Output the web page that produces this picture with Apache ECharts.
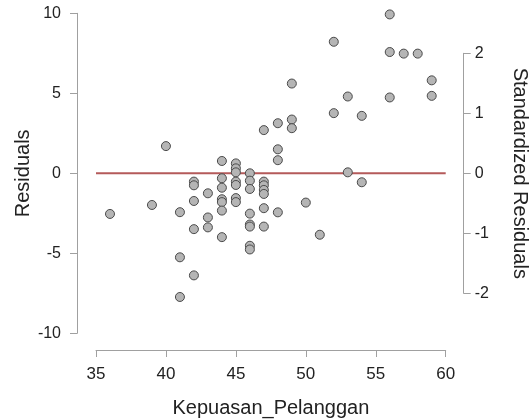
<!DOCTYPE html>
<html>
<head>
<meta charset="utf-8">
<script src="https://cdn.jsdelivr.net/npm/echarts@6/dist/echarts.min.js"></script>
<style>
html,body{margin:0;padding:0;background:#fff;}
#chart{width:530px;height:419px;}
</style>
</head>
<body>
<div id="chart"></div>
<script>
// Predictor values (Kepuasan_Pelanggan) and their residuals
const kepuasan = [
  36, 39, 40,
  41, 41, 41,
  42, 42, 42, 42, 42,
  43, 43, 43,
  44, 44, 44, 44, 44, 44, 44,
  45, 45, 45, 45, 45, 45, 45,
  46, 46, 46, 46, 46, 46, 46, 46,
  47, 47, 47, 47, 47, 47, 47,
  48, 48, 48, 48,
  49, 49, 49,
  50, 51,
  52, 52,
  53, 53,
  54, 54,
  56, 56, 56,
  57, 58,
  59, 59
];
const residuals = [
  -2.54, -1.98, 1.70,
  -2.43, -5.25, -7.73,
  -0.52, -0.75, -1.73, -3.49, -6.38,
  -1.25, -2.76, -3.38,
  0.77, -0.31, -0.90, -1.62, -1.80, -2.33, -3.99,
  0.62, 0.31, 0.06, -0.52, -0.73, -1.55, -1.80,
  0.00, -0.46, -0.98, -2.52, -3.20, -3.33, -4.53, -4.76,
  2.70, -0.52, -0.75, -1.04, -1.29, -2.18, -3.33,
  3.13, 1.50, 0.82, -2.44,
  5.61, 3.36, 2.82,
  -1.83, -3.84,
  8.22, 3.76,
  4.80, 0.06,
  3.59, -0.56,
  9.93, 7.58, 4.74,
  7.48, 7.48,
  5.81, 4.84
];
// Zero reference line
const refLineX = [35, 60];
const refLineY = [0, 0];
// Axis ranges / ticks
const xTicks = [35, 40, 45, 50, 55, 60];
const residualTicks = [-10, -5, 0, 5, 10];
const standardizedTicks = [-2, -1, 0, 1, 2];

const FONT = 'Liberation Sans';
const axisColor = '#a0a0a0';
const textColor = '#222';

const chart = echarts.init(document.getElementById('chart'), null, {renderer: 'canvas'});
const option = {
  animation: false,
  backgroundColor: '#fff',
  grid: [
    {left: 96, right: 84.3, top: 13.3, bottom: 85.7, containLabel: false, outerBoundsMode: 'none'},
    {left: 96, right: 84.3, top: 53.3, bottom: 125.7, containLabel: false, outerBoundsMode: 'none'}
  ],
  xAxis: [
    {
      gridIndex: 0, type: 'value',
      min: xTicks[0], max: xTicks[xTicks.length - 1], interval: 5,
      offset: 16.7,
      name: 'Kepuasan_Pelanggan', nameLocation: 'middle', nameGap: 48,
      nameTextStyle: {fontFamily: FONT, fontSize: 20, color: textColor},
      axisLine: {show: true, onZero: false, lineStyle: {color: axisColor, width: 1}},
      axisTick: {show: true, length: 7, lineStyle: {color: axisColor}},
      axisLabel: {fontFamily: FONT, fontSize: 17, color: textColor, margin: 16},
      splitLine: {show: false}
    },
    {
      gridIndex: 1, type: 'value', min: 35, max: 60, show: false
    }
  ],
  yAxis: [
    {
      gridIndex: 0, type: 'value', position: 'left',
      min: residualTicks[0], max: residualTicks[residualTicks.length - 1], interval: 5,
      offset: 19,
      name: 'Residuals', nameLocation: 'middle', nameGap: 44, nameMoveOverlap: false,
      nameTextStyle: {fontFamily: FONT, fontSize: 20, color: textColor},
      axisLine: {show: true, onZero: false, lineStyle: {color: axisColor, width: 1}},
      axisTick: {show: true, length: 7, lineStyle: {color: axisColor}},
      axisLabel: {fontFamily: FONT, fontSize: 16, color: textColor, margin: 16},
      splitLine: {show: false}
    },
    {
      gridIndex: 1, type: 'value', position: 'right',
      min: standardizedTicks[0], max: standardizedTicks[standardizedTicks.length - 1], interval: 1,
      offset: 18,
      name: 'Standardized Residuals', nameLocation: 'middle', nameGap: 46, nameRotate: -90,
      nameTextStyle: {fontFamily: FONT, fontSize: 20, color: textColor},
      axisLine: {show: true, onZero: false, lineStyle: {color: axisColor, width: 1}},
      axisTick: {show: true, length: 7, lineStyle: {color: axisColor}},
      axisLabel: {fontFamily: FONT, fontSize: 16, color: textColor, margin: 11},
      splitLine: {show: false}
    }
  ],
  series: [
    {
      type: 'line', xAxisIndex: 0, yAxisIndex: 0,
      data: refLineX.map((x, i) => [x, refLineY[i]]),
      symbol: 'none', silent: true,
      lineStyle: {color: '#b45a5a', width: 2},
      z: 1
    },
    {
      type: 'scatter', xAxisIndex: 0, yAxisIndex: 0,
      data: kepuasan.map((x, i) => [x, residuals[i]]),
      symbol: 'circle', symbolSize: 9,
      itemStyle: {color: '#b5b5b5', borderColor: '#4a4a4a', borderWidth: 1, opacity: 1},
      z: 2
    },
    {
      type: 'scatter', xAxisIndex: 1, yAxisIndex: 1, data: []
    }
  ]
};
chart.setOption(option);
</script>
</body>
</html>
